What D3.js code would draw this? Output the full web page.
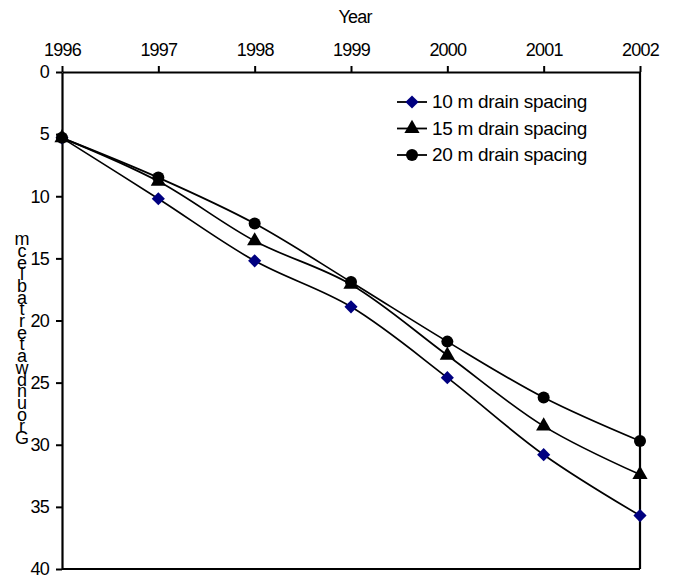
<!DOCTYPE html>
<html>
<head>
<meta charset="utf-8">
<script src="https://cdn.jsdelivr.net/npm/d3@7/dist/d3.min.js"></script>
<style>
  html, body { margin: 0; padding: 0; background: #fff; }
  svg text { font-family: "Liberation Sans", Arial, sans-serif; fill: #000; }
</style>
</head>
<body>
<svg id="chart" width="675" height="575"></svg>
<script>
const years = [1996, 1997, 1998, 1999, 2000, 2001, 2002];
const spacing10 = [5.3, 10.2, 15.2, 18.9, 24.6, 30.8, 35.7];
const spacing15 = [5.3, 8.8, 13.6, 17.1, 22.8, 28.5, 32.4];
const spacing20 = [5.3, 8.5, 12.2, 16.9, 21.7, 26.2, 29.7];
const seriesNames = ["10 m drain spacing", "15 m drain spacing", "20 m drain spacing"];
const yTicks = [0, 5, 10, 15, 20, 25, 30, 35, 40];
const xTitle = "Year";
const yTitle = "Groundwater table cm";

const svg = d3.select("#chart");
const x = d3.scaleLinear().domain([1996, 2002]).range([62, 640]);
const y = d3.scaleLinear().domain([0, 40]).range([72, 569]);

// frame right & bottom
svg.append("line").attr("x1", x(2002)).attr("x2", x(2002)).attr("y1", y(0)).attr("y2", y(40))
  .attr("stroke", "#000").attr("stroke-width", 2.2);
svg.append("line").attr("x1", x(1996)).attr("x2", x(2002)).attr("y1", y(40)).attr("y2", y(40))
  .attr("stroke", "#000").attr("stroke-width", 2.2);

// top axis
const gx = svg.append("g").attr("transform", `translate(0,${y(0)})`)
  .call(d3.axisTop(x).tickValues(years).tickFormat(d3.format("d")).tickSize(6).tickSizeOuter(0).tickPadding(10));
gx.select(".domain").attr("stroke-width", 2.2);
gx.selectAll(".tick line").attr("stroke-width", 2);
gx.selectAll("text").style("font-size", "18px").attr("letter-spacing", "-0.8px").attr("font-family", "Liberation Sans, Arial, sans-serif");

// left axis
const gy = svg.append("g").attr("transform", `translate(${x(1996)},0)`)
  .call(d3.axisLeft(y).tickValues(yTicks).tickSize(6).tickSizeOuter(0).tickPadding(7));
gy.select(".domain").attr("stroke-width", 2.2);
gy.selectAll(".tick line").attr("stroke-width", 2);
gy.selectAll("text").style("font-size", "18px").attr("letter-spacing", "-0.8px").attr("font-family", "Liberation Sans, Arial, sans-serif");

// titles
svg.append("text").attr("x", 355).attr("y", 23).attr("text-anchor", "middle")
  .style("font-size", "18px").attr("letter-spacing", "-0.8px").text(xTitle);

// stacked y title, read bottom-to-top (as in the reference)
const chars = yTitle.replace(/ /g, "").split("").reverse();
const step = 11.7;
const yt = svg.append("text").attr("text-anchor", "middle").style("font-size", "18px");
chars.forEach((c, i) => {
  yt.append("tspan").attr("x", 22).attr("y", 444 - (chars.length - 1 - i) * step).text(c);
});

// series
const data = [spacing10, spacing15, spacing20];
const line = d3.line().x((d, i) => x(years[i])).y(d => y(d)).curve(d3.curveCatmullRom.alpha(0.5));

data.forEach(s => {
  svg.append("path").attr("d", line(s)).attr("fill", "none").attr("stroke", "#000").attr("stroke-width", 1.7);
});

function marker(g, k, cx, cy) {
  if (k === 0) {
    g.append("path").attr("d", d3.symbol().type(d3.symbolDiamond2).size(110)())
      .attr("transform", `translate(${cx},${cy})`).attr("fill", "#000080");
  } else if (k === 1) {
    g.append("path").attr("d", d3.symbol().type(d3.symbolTriangle).size(100)())
      .attr("transform", `translate(${cx},${cy})`).attr("fill", "#000");
  } else {
    g.append("circle").attr("cx", cx).attr("cy", cy).attr("r", 6).attr("fill", "#000");
  }
}

const gm = svg.append("g");
data.forEach((s, k) => {
  s.forEach((v, i) => marker(gm, k, x(years[i]), y(v)));
});

// legend
const lg = svg.append("g");
seriesNames.forEach((n, k) => {
  const ly = 102 + k * 26.5;
  lg.append("line").attr("x1", 397).attr("x2", 427).attr("y1", ly).attr("y2", ly).attr("stroke", "#000").attr("stroke-width", 1.8);
  marker(lg, k, 412, ly);
  lg.append("text").attr("x", 432).attr("y", ly + 6).style("font-size", "19px").attr("letter-spacing", "-0.3px").text(n);
});
</script>
</body>
</html>
